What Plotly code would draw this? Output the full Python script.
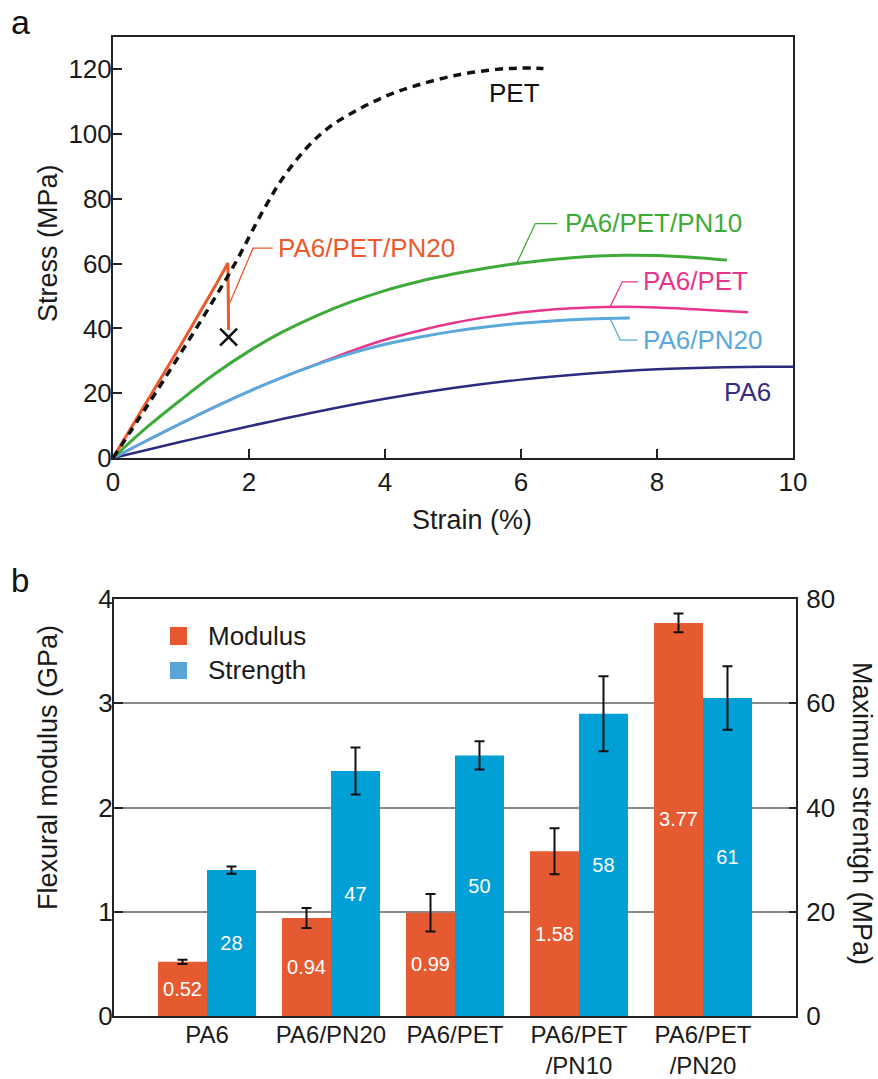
import plotly.graph_objects as go

# ---------------- Panel a data ----------------
pa6_strain = [0, 1, 2, 3, 4, 5, 6, 7, 8, 9, 10]
pa6_stress = [0, 5.0, 9.8, 14.3, 18.3, 21.6, 24.2, 26.1, 27.4, 28.0, 28.2]

pa6pet_strain = [0, 0.5, 1, 1.5, 2, 2.5, 3, 3.5, 4, 4.5, 5, 5.5, 6, 6.5, 7, 7.5, 8, 8.5, 9, 9.34]
pa6pet_stress = [0, 5.4, 10.7, 15.8, 20.6, 25.0, 29.0, 33.0, 36.5, 39.3, 41.7, 43.5, 44.9, 45.9, 46.5, 46.7, 46.5, 46.0, 45.4, 45.0]

pa6pn20_strain = [0, 0.5, 1, 1.5, 2, 2.5, 3, 3.5, 4, 4.5, 5, 5.5, 6, 6.5, 7, 7.6]
pa6pn20_stress = [0, 5.4, 10.7, 15.8, 20.6, 25.0, 28.9, 32.3, 35.1, 37.3, 39.1, 40.5, 41.6, 42.4, 42.9, 43.2]

pn10_strain = [0, 0.5, 1, 1.5, 2, 2.5, 3, 3.5, 4, 4.5, 5, 5.5, 6, 6.5, 7, 7.5, 8, 8.5, 9.03]
pn10_stress = [0, 9.5, 18, 26, 33, 39, 44, 48.2, 51.7, 54.5, 56.8, 58.7, 60.2, 61.4, 62.2, 62.6, 62.5, 62.0, 61.1]

pn20_strain = [0, 0.5, 1.0, 1.5, 1.69, 1.70]
pn20_stress = [0, 17.5, 35.0, 53.0, 60.2, 39.5]
pn20_break_strain = [1.70]
pn20_break_stress = [37.3]

pet_strain = [0, 0.5, 1.0, 1.5, 1.82, 2.21, 2.5, 2.85, 3.19, 3.58, 4.02, 4.47, 5.05, 5.64, 6.0, 6.33]
pet_stress = [0, 16, 32.5, 49.5, 61, 76.5, 86.5, 95.8, 102.3, 107.3, 111.8, 115.1, 118.2, 120, 120.4, 120.3]

# ---------------- Panel b data ----------------
categories = ["PA6", "PA6/PN20", "PA6/PET", "PA6/PET<br>/PN10", "PA6/PET<br>/PN20"]
modulus = [0.52, 0.94, 0.99, 1.58, 3.77]
modulus_err = [0.02, 0.095, 0.18, 0.22, 0.09]
strength = [28, 47, 50, 58, 61]
strength_err = [0.7, 4.5, 2.7, 7.2, 6.1]

x_ticks_a = [0, 2, 4, 6, 8, 10]
y_ticks_a = [0, 20, 40, 60, 80, 100, 120]
y_ticks_mod = [0, 1, 2, 3, 4]
y_ticks_str = [0, 20, 40, 60, 80]

FONT = "Liberation Sans, Arial, Helvetica, sans-serif"
W, H = 878, 1079

C_PA6 = "#2D2B80"
C_PA6PET = "#E8358B"
C_PN20B = "#5AA8DC"
C_PN10 = "#3DAA3A"
C_PN20 = "#EC5A2B"
C_MOD = "#E65A31"
C_STR = "#009FD5"

def px(xp):
    return xp / W

def py(yp):
    return 1 - yp / H

fig = go.Figure()

# Panel a curves
fig.add_trace(go.Scatter(x=pa6_strain, y=pa6_stress, mode="lines", line=dict(color=C_PA6, width=2.5, shape="spline"),
                         showlegend=False, xaxis="x", yaxis="y"))
fig.add_trace(go.Scatter(x=pa6pet_strain, y=pa6pet_stress, mode="lines", line=dict(color=C_PA6PET, width=2.5, shape="spline"),
                         showlegend=False, xaxis="x", yaxis="y"))
fig.add_trace(go.Scatter(x=pa6pn20_strain, y=pa6pn20_stress, mode="lines", line=dict(color=C_PN20B, width=3, shape="spline"),
                         showlegend=False, xaxis="x", yaxis="y"))
fig.add_trace(go.Scatter(x=pn10_strain, y=pn10_stress, mode="lines", line=dict(color=C_PN10, width=3, shape="spline"),
                         showlegend=False, xaxis="x", yaxis="y"))
fig.add_trace(go.Scatter(x=pn20_strain, y=pn20_stress, mode="lines", line=dict(color=C_PN20, width=3),
                         showlegend=False, xaxis="x", yaxis="y"))
fig.add_trace(go.Scatter(x=pn20_break_strain, y=pn20_break_stress, mode="markers",
                         marker=dict(symbol="x-thin", size=17, line=dict(color="#111111", width=2.5)),
                         showlegend=False, xaxis="x", yaxis="y"))
fig.add_trace(go.Scatter(x=pet_strain, y=pet_stress, mode="lines",
                         line=dict(color="#111111", width=3.5, dash="8px,6px", shape="spline"),
                         showlegend=False, xaxis="x", yaxis="y"))

# Panel b bars
BW = 0.395
fig.add_trace(go.Bar(x=categories, y=modulus, name="Modulus", marker=dict(color=C_MOD, line=dict(width=0)),
                     width=BW, offset=-BW,
                     error_y=dict(type="data", array=modulus_err, color="#111111", thickness=2, width=5),
                     text=[f"{v:.2f}" for v in modulus], textposition="inside", insidetextanchor="middle",
                     textangle=0, textfont=dict(color="white", size=20, family=FONT),
                     showlegend=False, xaxis="x2", yaxis="y2"))
fig.add_trace(go.Bar(x=categories, y=strength, name="Strength", marker=dict(color=C_STR, line=dict(width=0)),
                     width=BW, offset=0,
                     error_y=dict(type="data", array=strength_err, color="#111111", thickness=2, width=5),
                     text=[f"{v:d}" for v in strength], textposition="inside", insidetextanchor="middle",
                     textangle=0, textfont=dict(color="white", size=20, family=FONT),
                     showlegend=False, xaxis="x2", yaxis="y3"))

axis_line = dict(showline=True, linecolor="#222222", linewidth=2, zeroline=False, automargin=False)
tf26 = dict(size=26, family=FONT, color="#1a1a1a")

fig.update_layout(
    width=W, height=H,
    margin=dict(l=0, r=0, t=0, b=0, autoexpand=False),
    paper_bgcolor="white", plot_bgcolor="white",
    font=dict(family=FONT, color="#1a1a1a"),
    barmode="overlay",
    xaxis=dict(domain=[px(113), px(793)], anchor="y", range=[0, 10], tickvals=x_ticks_a,
               ticks="inside", ticklen=9, tickwidth=2, tickcolor="#222222", mirror=True, showgrid=False,
               ticklabelstandoff=0, tickfont=tf26, **axis_line),
    yaxis=dict(domain=[py(458), py(37)], anchor="x", range=[0, 130], tickvals=y_ticks_a,
               ticks="inside", ticklen=9, tickwidth=2, tickcolor="#222222", mirror=True, showgrid=False,
               ticklabelstandoff=-6, tickfont=tf26, **axis_line),
    xaxis2=dict(domain=[px(114), px(796)], anchor="y2", type="category", range=[-0.75, 4.75],
                ticks="", mirror=True, showgrid=False, ticklabelstandoff=-4,
                tickfont=dict(size=24, family=FONT, color="#1a1a1a"), **axis_line),
    yaxis2=dict(domain=[py(1016), py(599)], anchor="x2", range=[0, 4], tickvals=y_ticks_mod,
                ticks="inside", ticklen=9, tickwidth=2, tickcolor="#222222",
                showgrid=True, gridcolor="#8a8a8a", gridwidth=1.5,
                ticklabelstandoff=-6, tickfont=tf26, **axis_line),
    yaxis3=dict(anchor="x2", overlaying="y2", side="right", range=[0, 80], tickvals=y_ticks_str,
                ticks="inside", ticklen=7, tickwidth=2, tickcolor="#222222", showgrid=False,
                ticklabelstandoff=3, tickfont=tf26, **axis_line),
)

ann = []
def pann(text, xp, yp, size, angle=0, xanchor="center", yanchor="middle", color="#1a1a1a"):
    ann.append(dict(text=text, x=px(xp), y=py(yp), xref="paper", yref="paper", textangle=angle,
                    xanchor=xanchor, yanchor=yanchor, showarrow=False,
                    font=dict(size=size, family=FONT, color=color)))

# panel letters
pann("a", 9, 22, 34, xanchor="left", color="#111")
pann("b", 9, 580, 33, xanchor="left", color="#111")
# axis titles
pann("Stress (MPa)", 48, 243, 27, angle=-90)
pann("Strain (%)", 472, 520, 27)
pann("Flexural modulus (GPa)", 48, 768, 27, angle=-90)
pann("Maximum strentgh (MPa)", 862, 813, 27, angle=90)
# legend (panel b)
pann("Modulus", 206, 636, 26, xanchor="left")
pann("Strength", 206, 670, 26, xanchor="left")

# curve labels (panel a)
def lab(text, x, y, color):
    ann.append(dict(text=text, x=x, y=y, xref="x", yref="y", xanchor="left", yanchor="middle",
                    showarrow=False, font=dict(size=26, family=FONT, color=color)))

lab("PET", 5.5, 112.8, "#111111")
lab("PA6/PET/PN10", 6.62, 72.6, C_PN10)
lab("PA6/PET/PN20", 2.39, 64.8, C_PN20)
lab("PA6/PET", 7.77, 54.6, C_PA6PET)
lab("PA6/PN20", 7.77, 36.4, C_PN20B)
lab("PA6", 8.96, 20.4, "#3A2C80")

shapes = []
shapes.append(dict(type="rect", xref="paper", yref="paper", x0=px(170), x1=px(187), y0=py(645), y1=py(627),
                   fillcolor="#E8582F", line=dict(width=0)))
shapes.append(dict(type="rect", xref="paper", yref="paper", x0=px(170), x1=px(187), y0=py(679), y1=py(662),
                   fillcolor="#5AA5D8", line=dict(width=0)))

# leader lines
def leader(path_pts, color):
    d = "M " + " L ".join(f"{a},{b}" for a, b in path_pts)
    shapes.append(dict(type="path", xref="x", yref="y", path=d, line=dict(color=color, width=1.3)))

leader([(5.94, 60.2), (6.21, 72.4), (6.53, 72.4)], C_PN10)
leader([(1.72, 48.0), (2.06, 64.8), (2.35, 64.8)], C_PN20)
leader([(7.31, 46.6), (7.49, 54.4), (7.72, 54.4)], C_PA6PET)
leader([(7.31, 43.1), (7.46, 36.4), (7.71, 36.4)], C_PN20B)

fig.update_layout(annotations=ann, shapes=shapes)

fig.write_html("out.html")
